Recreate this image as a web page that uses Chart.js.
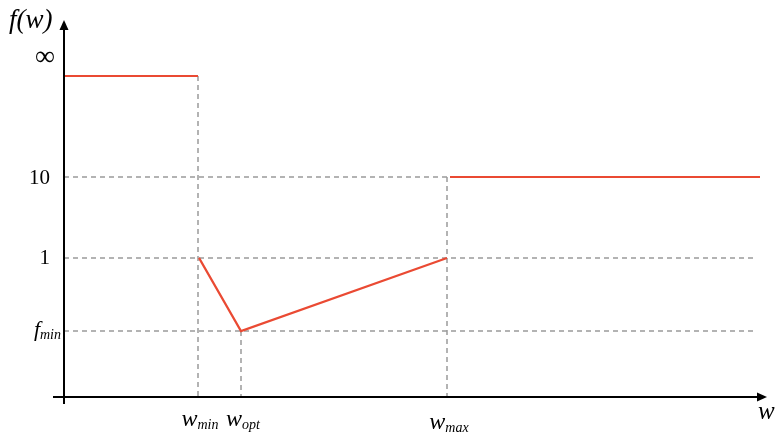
<!DOCTYPE html>
<html>
<head>
<meta charset="utf-8">
<script src="https://cdn.jsdelivr.net/npm/chart.js@4"></script>
<style>
  html, body { margin: 0; padding: 0; background: #fff; }
  canvas { display: block; }
</style>
</head>
<body>
<canvas id="chart" width="779" height="434"></canvas>
<script>
// schematic levels (axis units)
const yTickValues = [0.90, 1.90, 3.005, 4.385]
const yTickLabels = ['f', '1', '10', '\u221E']
const yTickSubs = ['min', '', '', '']

const xTickValues = [1.34, 1.77, 3.83]
const xTickLabels = ['w', 'w', 'w']
const xTickSubs = ['min', 'opt', 'max']

const [FMIN, ONE, TEN, INF] = yTickValues
const [WMIN, WOPT, WMAX] = xTickValues
const xEnd = 6.96      // end of the right red line
const dashEnd = 6.90   // end of the dashed guide lines
const xMax = 7.03
const yMax = 5.15

// the curve f(w), piece by piece
const leftPiece = [{x: 0, y: INF}, {x: WMIN, y: INF}]
const midPiece = [{x: WMIN + 0.01, y: ONE}, {x: WOPT, y: FMIN}, {x: WMAX, y: ONE}]
const rightPiece = [{x: WMAX + 0.03, y: TEN}, {x: xEnd, y: TEN}]

// dashed guide lines
const guides = [
    [{x: 0, y: TEN}, {x: WMAX, y: TEN}],
    [{x: 0, y: ONE}, {x: dashEnd, y: ONE}],
    [{x: 0, y: FMIN}, {x: dashEnd, y: FMIN}],
    [{x: WMIN, y: INF}, {x: WMIN, y: 0}],
    [{x: WOPT, y: FMIN}, {x: WOPT, y: 0}],
    [{x: WMAX, y: TEN}, {x: WMAX, y: 0}],
]

const red = '#ea4a33'
const grey = '#9a9a9a'
const serif = '"Liberation Serif", "DejaVu Serif", serif'

const redSet = data => ({
    data: data, showLine: true, borderColor: red, borderWidth: 2.2,
    pointRadius: 0, fill: false, tension: 0
})
const guideSet = data => ({
    data: data, showLine: true, borderColor: grey, borderWidth: 1.5,
    borderDash: [5, 4], pointRadius: 0, fill: false, tension: 0
})

function labelWithSub(ctx, base, sub, x, y, size, subSize, align) {
    ctx.font = `italic ${size}px ${serif}`
    const bw = ctx.measureText(base).width
    ctx.font = `italic ${subSize}px ${serif}`
    const sw = sub ? ctx.measureText(sub).width : 0
    let left = x
    if (align === 'center') left = x - (bw + sw) / 2
    if (align === 'right') left = x - (bw + sw)
    ctx.textAlign = 'left'
    ctx.textBaseline = 'alphabetic'
    ctx.font = `italic ${size}px ${serif}`
    ctx.fillText(base, left, y)
    if (sub) {
        ctx.font = `italic ${subSize}px ${serif}`
        ctx.fillText(sub, left + bw, y + 3)
    }
}

const axesPlugin = {
    id: 'axes',
    afterDraw(chart) {
        const ctx = chart.ctx
        const xs = chart.scales.x
        const ys = chart.scales.y
        const x0 = xs.getPixelForValue(0)
        const y0 = ys.getPixelForValue(0)
        const xTip = xs.getPixelForValue(xMax)
        const yTip = ys.getPixelForValue(yMax)
        ctx.save()
        ctx.strokeStyle = '#000'
        ctx.fillStyle = '#000'
        ctx.lineWidth = 2
        ctx.beginPath()
        ctx.moveTo(x0 - 11, y0)
        ctx.lineTo(xTip - 8, y0)
        ctx.moveTo(x0, y0 + 7)
        ctx.lineTo(x0, yTip + 8)
        ctx.stroke()
        // arrow heads
        ctx.beginPath()
        ctx.moveTo(xTip, y0)
        ctx.lineTo(xTip - 10, y0 - 4.5)
        ctx.lineTo(xTip - 10, y0 + 4.5)
        ctx.closePath()
        ctx.fill()
        ctx.beginPath()
        ctx.moveTo(x0, yTip)
        ctx.lineTo(x0 - 4.5, yTip + 10)
        ctx.lineTo(x0 + 4.5, yTip + 10)
        ctx.closePath()
        ctx.fill()

        // y tick labels
        yTickValues.forEach((v, i) => {
            const py = ys.getPixelForValue(v)
            if (yTickSubs[i]) {
                labelWithSub(ctx, yTickLabels[i], yTickSubs[i], x0 - 3, py + 5, 22, 14, 'right')
            } else if (yTickLabels[i] === '\u221E') {
                ctx.font = `28px ${serif}`
                ctx.textAlign = 'center'
                ctx.textBaseline = 'middle'
                ctx.fillText(yTickLabels[i], x0 - 19, py - 18)
            } else {
                ctx.font = `21px ${serif}`
                ctx.textAlign = 'right'
                ctx.textBaseline = 'middle'
                ctx.fillText(yTickLabels[i], x0 - 14, py + 1)
            }
        })

        // x tick labels
        xTickValues.forEach((v, i) => {
            const px = xs.getPixelForValue(v)
            const shift = i === 2 ? 3 : 0
            labelWithSub(ctx, xTickLabels[i], xTickSubs[i], px + 2, y0 + 29 + shift, 24, 14, 'center')
        })

        // axis titles
        ctx.font = `italic 25px ${serif}`
        ctx.textAlign = 'left'
        ctx.textBaseline = 'alphabetic'
        ctx.fillText('w', xTip - 9, y0 + 22)
        ctx.font = `italic 27px ${serif}`
        ctx.fillText('f(w)', 9, 28)
        ctx.restore()
    }
}

new Chart(document.getElementById('chart'), {
    type: 'scatter',
    data: {
        datasets: [
            redSet(leftPiece),
            redSet(midPiece),
            redSet(rightPiece),
            ...guides.map(guideSet)
        ]
    },
    options: {
        responsive: false,
        animation: false,
        layout: { padding: { left: 64, right: 12, top: 20, bottom: 37 } },
        scales: {
            x: { type: 'linear', min: 0, max: xMax, display: false },
            y: { type: 'linear', min: 0, max: yMax, display: false }
        },
        plugins: {
            legend: { display: false },
            title: { display: false },
            tooltip: { enabled: false }
        }
    },
    plugins: [axesPlugin]
})
</script>
</body>
</html>
